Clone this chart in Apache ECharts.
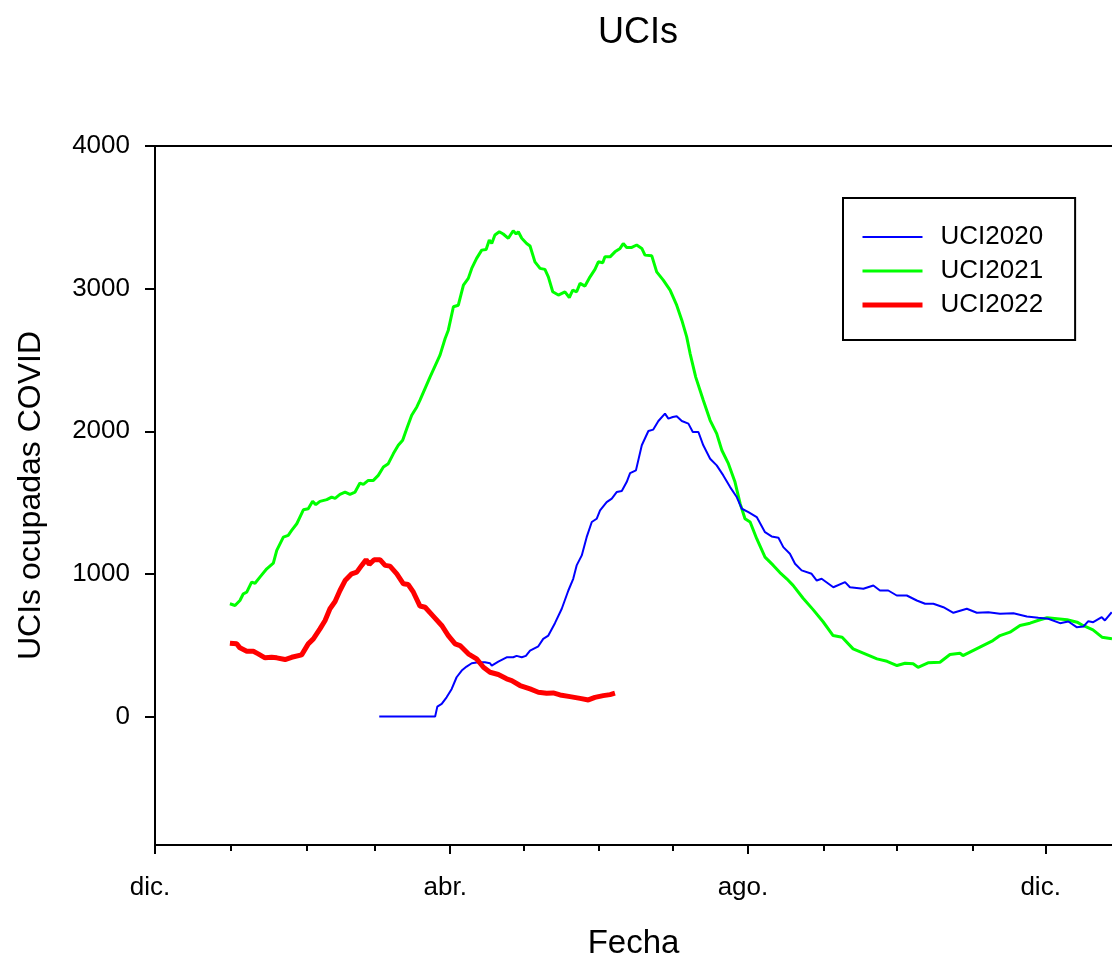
<!DOCTYPE html>
<html>
<head>
<meta charset="utf-8">
<script src="https://cdn.jsdelivr.net/npm/echarts@6/dist/echarts.min.js"></script>
<style>
html,body{margin:0;padding:0;background:#fff;}
#chart{width:1112px;height:961px;}
</style>
</head>
<body>
<div id="chart"></div>
<script>
// Days counted from 1 December (x axis), values = occupied ICU beds
const monthTickDays = [0, 31, 62, 90, 121, 151, 182, 212, 243, 274, 304, 335, 365];
const labelTickDays = [0, 121, 243, 365];
const labelTickText = ['dic.', 'abr.', 'ago.', 'dic.'];
const yTickValues = [0, 1000, 2000, 3000, 4000];

const uci2020Days = [91.9,114.8,115.7,117.5,119.5,121.6,123.6,125.7,127.7,129.8,132.5,135.2,137.3,138.0,140.7,144.1,146.8,148.2,150.3,152.0,153.7,157.1,159.1,161.2,163.9,166.7,169.4,171.4,172.8,174.9,176.9,179.0,181.0,182.4,185.1,187.2,189.2,191.3,193.3,194.7,197.1,199.5,202.2,204.2,206.3,209.0,210.4,212.2,213.8,215.9,218.6,220.4,222.7,224.7,227.5,230.2,232.9,235.7,238.4,240.5,243.2,246.6,250.0,252.7,255.5,257.5,260.2,262.3,265.0,269.1,271.2,273.2,278.0,282.8,284.8,290.3,294.4,297.1,300.5,304.0,308.1,312.2,315.6,319.0,323.1,327.2,332.7,336.8,341.5,346.3,351.8,357.3,362.0,366.1,370.9,374.3,377.7,380.5,382.5,384.5,388.0,389.3,392.1];
const uci2020Values = [0,0,70,89,135,194,276,323,351,374,381,381,374,358,386,416,416,426,416,426,463,493,545,568,655,756,884,966,1060,1130,1258,1364,1387,1446,1504,1528,1574,1581,1644,1707,1726,1902,2002,2012,2072,2124,2089,2100,2105,2072,2054,1995,1995,1902,1808,1761,1691,1609,1539,1457,1434,1399,1293,1263,1254,1188,1142,1072,1025,1001,954,966,907,943,907,896,919,884,884,849,849,814,791,791,767,728,756,728,732,721,725,702,693,686,655,667,627,632,669,662,697,674,732];

const uci2021Days = [30.7,32.8,34.8,36.2,37.6,39.6,41.0,43.0,45.8,48.5,49.9,52.6,54.6,56.0,58.1,59.4,60.8,62.8,64.6,65.9,67.6,70.4,72.4,73.8,75.8,77.9,79.9,82.0,84.0,85.4,87.4,89.5,91.5,93.6,95.6,97.7,99.7,101.5,103.2,105.2,107.3,108.6,112.7,116.8,118.9,120.2,122.3,124.3,126.4,128.4,129.8,131.8,133.9,135.7,137.0,138.0,139.3,141.1,142.7,144.8,146.8,148.0,148.9,150.3,152.3,153.7,155.7,157.8,159.8,161.2,163.0,165.3,168.0,169.8,171.2,172.8,174.2,176.2,178.3,180.3,181.7,183.5,184.4,186.5,188.5,190.6,191.9,193.3,195.4,197.4,199.5,200.8,203.6,205.6,208.3,211.1,213.8,215.9,217.9,219.3,221.6,224.7,227.5,230.2,232.3,235.0,237.7,239.8,241.8,243.9,246.6,250.0,253.4,256.1,258.9,261.5,265.6,269.7,273.8,277.9,281.6,286.1,291.0,295.9,300.0,304.1,307.4,310.7,312.7,316.8,321.7,325.8,329.9,331.1,335.2,339.3,343.4,346.3,350.4,354.5,358.6,362.7,365.6,369.7,373.8,377.9,380.3,384.4,388.1,392.2];
const uci2021Values = [791,779,814,861,872,943,935,978,1036,1076,1165,1258,1270,1305,1352,1399,1450,1457,1509,1486,1509,1521,1539,1530,1558,1574,1558,1574,1637,1628,1656,1656,1691,1750,1773,1844,1902,1937,2019,2112,2171,2218,2380,2534,2651,2709,2873,2884,3025,3072,3142,3212,3270,3275,3341,3317,3376,3399,3383,3353,3406,3383,3399,3353,3317,3299,3188,3142,3135,3083,2978,2955,2978,2938,2990,2978,3037,3018,3083,3135,3188,3181,3223,3223,3258,3282,3317,3289,3289,3306,3282,3235,3230,3118,3060,2990,2884,2779,2662,2545,2380,2218,2077,1984,1867,1773,1644,1493,1387,1364,1247,1118,1060,1010,966,920,830,750,665,568,557,475,440,405,388,358,374,370,346,377,381,435,444,428,463,498,533,568,592,639,655,679,693,686,679,662,639,608,557,545];

const uci2022Days = [30.7,33.5,34.8,37.6,40.3,42.3,45.1,47.8,49.9,53.3,56.0,60.1,62.8,64.9,67.6,69.7,71.7,73.8,75.8,77.9,80.6,82.7,84.7,86.5,87.8,89.8,92.2,94.3,96.3,99.1,101.8,103.8,105.9,108.6,110.7,114.1,117.5,120.2,123.0,125.0,128.4,131.8,134.6,137.3,140.7,144.1,146.2,149.6,153.7,157.1,160.5,163.2,166.0,170.1,174.2,177.6,180.3,183.7,186.5,188.5];
const uci2022Values = [515,510,482,458,458,440,412,416,412,400,416,433,510,545,615,674,756,807,884,954,1001,1013,1060,1100,1067,1100,1100,1060,1055,1001,931,926,872,775,767,703,639,568,510,498,440,405,346,311,295,265,253,218,194,171,164,166,152,140,128,117,135,147,154,164];

const seriesNames = ['UCI2020', 'UCI2021', 'UCI2022'];
const seriesColors = ['#0000ff', '#00ff00', '#ff0000'];
const seriesWidths = [2, 3, 5];

function zip(days, vals) { return days.map((d, i) => [d, vals[i]]); }
const labelMap = {};
labelTickDays.forEach((d, i) => { labelMap[d] = labelTickText[i]; });

const FONT = 'Arial, "Liberation Sans", sans-serif';
const chart = echarts.init(document.getElementById('chart'), null, {renderer: 'canvas'});

const X_MAX = 392.2;
const baseX = {
  type: 'value', min: 0, max: X_MAX, gridIndex: 0,
  splitLine: {show: false}
};

chart.setOption({
  animation: false,
  backgroundColor: '#fff',
  title: {
    text: 'UCIs', left: 593, top: 10,
    textStyle: {fontFamily: FONT, fontSize: 36, fontWeight: 'normal', color: '#000'}
  },
  grid: {
    left: 155, top: 146, width: 957, height: 699,
    show: false, outerBoundsMode: 'none', containLabel: false
  },
  legend: {
    orient: 'vertical', left: 843, top: 198,
    padding: [26, 32, 22, 17],
    borderColor: '#000', borderWidth: 2, backgroundColor: '#fff',
    itemWidth: 60, itemHeight: 14, itemGap: 8,
    itemStyle: {opacity: 0},
    textStyle: {fontFamily: FONT, fontSize: 26, color: '#000', lineHeight: 26, padding: [0, 0, 0, 13]},
    data: seriesNames.map((n, i) => ({
      name: n,
      lineStyle: {color: seriesColors[i], width: seriesWidths[i]},
      itemStyle: {opacity: 0}
    }))
  },
  xAxis: [
    Object.assign({}, baseX, {
      position: 'bottom',
      axisLine: {show: true, onZero: false, lineStyle: {color: '#000', width: 2}},
      axisTick: {show: true, customValues: monthTickDays, length: 6, lineStyle: {color: '#000', width: 2}},
      axisLabel: {show: false}
    }),
    Object.assign({}, baseX, {
      position: 'bottom',
      axisLine: {show: false, onZero: false},
      axisTick: {show: true, customValues: labelTickDays, length: 9, lineStyle: {color: '#000', width: 2}},
      axisLabel: {
        show: true, customValues: labelTickDays, margin: 30,
        formatter: v => labelMap[v] || '',
        fontFamily: FONT, fontSize: 26, color: '#000', padding: [0, 10, 0, 0]
      },
      name: 'Fecha', nameLocation: 'middle', nameGap: 82,
      nameTextStyle: {fontFamily: FONT, fontSize: 33, color: '#000'}
    }),
    Object.assign({}, baseX, {
      position: 'top',
      axisLine: {show: true, onZero: false, lineStyle: {color: '#000', width: 2}},
      axisTick: {show: false},
      axisLabel: {show: false}
    })
  ],
  yAxis: {
    type: 'value', min: -900, max: 4000,
    splitLine: {show: false},
    axisLine: {show: true, onZero: false, lineStyle: {color: '#000', width: 2}},
    axisTick: {show: true, customValues: yTickValues, length: 10, lineStyle: {color: '#000', width: 2}},
    axisLabel: {customValues: yTickValues, margin: 25, formatter: v => String(v),
      fontFamily: FONT, fontSize: 26, color: '#000'},
    name: 'UCIs ocupadas COVID', nameLocation: 'middle', nameGap: 108,
    nameTextStyle: {fontFamily: FONT, fontSize: 32, color: '#000'}
  },
  series: seriesNames.map((n, i) => ({
    name: n, type: 'line', xAxisIndex: 0, symbol: 'none',
    data: [zip(uci2020Days, uci2020Values), zip(uci2021Days, uci2021Values), zip(uci2022Days, uci2022Values)][i],
    lineStyle: {color: seriesColors[i], width: seriesWidths[i]},
    itemStyle: {color: seriesColors[i]},
    z: [3, 2, 4][i]
  }))
});
</script>
</body>
</html>
